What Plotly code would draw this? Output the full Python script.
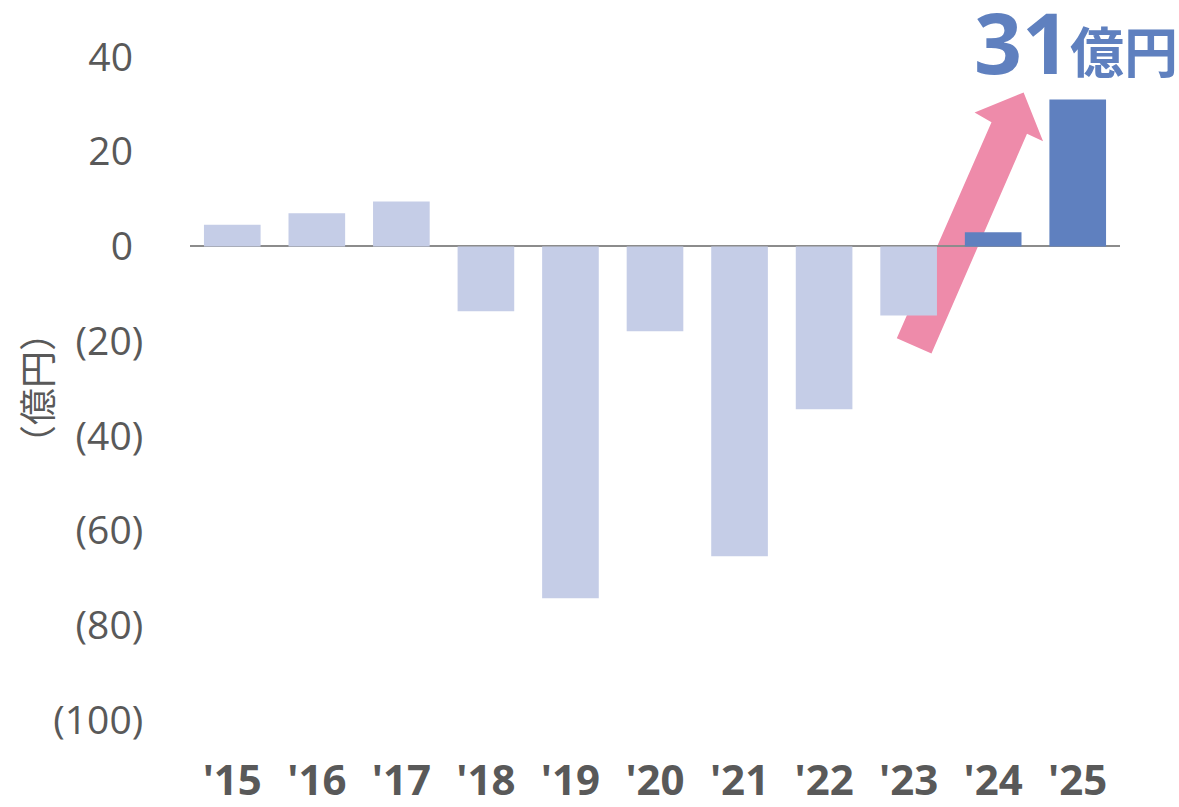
import plotly.graph_objects as go

years = ["'15", "'16", "'17", "'18", "'19", "'20", "'21", "'22", "'23", "'24", "'25"]
values = [4.6, 7.0, 9.5, -13.7, -74.3, -17.9, -65.4, -34.4, -14.6, 3.0, 31.0]
highlight = [False] * 9 + [True, True]
ytick_vals = [40, 20, 0, -20, -40, -60, -80, -100]
ytick_text = ["40\u2008", "20\u2008", "0\u2008", "(20)", "(40)", "(60)", "(80)", "(100)"]

LIGHT = "#C5CDE7"
DARK = "#5F80BF"
PINK = "#EE8BAA"
GRAY = "#595959"
FONT = "Open Sans, Noto Sans CJK JP, sans-serif"

colors = [DARK if h else LIGHT for h in highlight]

fig = go.Figure()
fig.add_trace(go.Bar(x=years, y=values, marker_color=colors, marker_line_width=0,
                     hoverinfo="skip"))

# arrow (in data coords: category index, value)
arrow_pts = [(7.86, -19.4), (8.98, 26.2), (8.78, 28.3), (9.36, 32.5),
             (9.59, 22.2), (9.40, 23.8), (8.27, -22.6)]
path = "M " + " L ".join(f"{x},{y}" for x, y in arrow_pts) + " Z"
fig.add_shape(type="path", path=path, xref="x", yref="y",
              fillcolor=PINK, line_width=0, layer="below")

fig.update_layout(
    width=1179, height=807,
    margin=dict(l=190, r=59, t=57, b=87, autoexpand=False),
    paper_bgcolor="white", plot_bgcolor="white",
    bargap=0.33,
    showlegend=False,
    font=dict(family=FONT, color=GRAY),
)
fig.update_xaxes(
    automargin=False,
    showgrid=False, showline=False, zeroline=False,
    ticks="outside", ticklen=24, tickcolor="rgba(0,0,0,0)",
    tickfont=dict(size=42, color=GRAY, family=FONT, weight="bold"),
)
fig.update_yaxes(
    automargin=False,
    range=[-100, 40], showgrid=False, showline=False,
    zeroline=True, zerolinecolor="#8C8C8C", zerolinewidth=2,
    tickvals=ytick_vals, ticktext=ytick_text,
    ticks="outside", ticklen=38, tickcolor="rgba(0,0,0,0)",
    tickfont=dict(size=39, color=GRAY, family=FONT),
)

fig.add_annotation(text="（億円）", xref="paper", yref="paper",
                   x=(37 - 190) / 930, y=(720 - 388) / 663, textangle=-90, showarrow=False,
                   font=dict(size=37, color=GRAY, family=FONT),
                   xanchor="center", yanchor="middle")
fig.add_annotation(text="<b>31</b>", xref="paper", yref="paper",
                   x=(1072 - 190) / 930, y=(720 - 41) / 663, showarrow=False,
                   font=dict(size=84, color=DARK, family=FONT),
                   xanchor="right", yanchor="middle")
fig.add_annotation(text="<b>億円</b>", xref="paper", yref="paper",
                   x=(1068 - 190) / 930, y=(720 - 52) / 663, showarrow=False,
                   font=dict(size=54, color=DARK, family=FONT),
                   xanchor="left", yanchor="middle")

fig.write_html("out.html", config={"displayModeBar": False},
               post_script="document.body.style.margin='0';document.body.style.padding='0';")
